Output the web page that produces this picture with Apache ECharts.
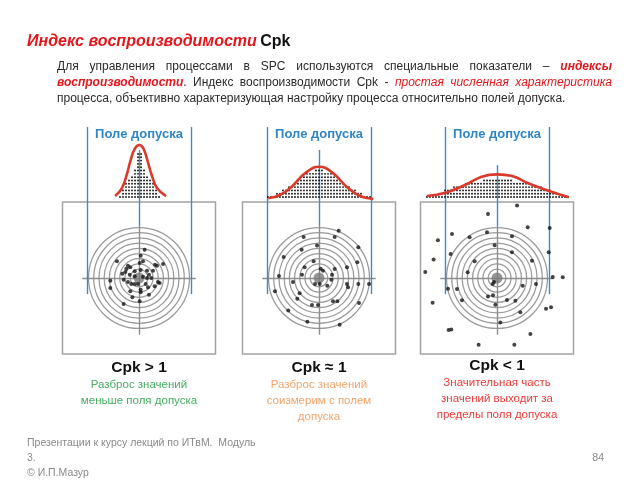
<!DOCTYPE html>
<html>
<head>
<meta charset="utf-8">
<script src="https://cdn.jsdelivr.net/npm/echarts@6/dist/echarts.min.js"></script>
<style>
  html, body { margin: 0; background: #fff; }
  #main { width: 640px; height: 480px; }
</style>
</head>
<body>
<div id="main"></div>
<script>
// all positions in tolerance units: LSL = -1, target = 0, USL = +1
var tolerance = [-1, 1];
var ringRadii = [0.17, 0.27, 0.37, 0.47, 0.57, 0.67, 0.77, 0.87, 0.97];

// shots on the target
var shots1 = [[0.109,0.545],[0.032,0.429],[-0.423,0.321],[-0.212,0.237],[-0.167,0.205],[-0.244,0.179],
  [0.013,0.288],[0.077,0.321],[0.308,0.256],[0.346,0.237],[0.462,0.269],[-0.321,0.083],[-0.263,0.115],
  [-0.179,0.064],[-0.083,0.128],[0.032,0.154],[0.154,0.141],[0.269,0.141],[0.192,0.064],[-0.551,-0.051],
  [-0.295,-0.032],[-0.212,-0.077],[-0.147,-0.115],[-0.083,-0.115],[-0.019,-0.115],[0.077,0.026],[0.154,0],
  [0.237,0],[0.365,-0.077],[0.397,-0.096],[-0.551,-0.192],[-0.167,-0.256],[0.032,-0.224],[0.032,-0.276],
  [0.128,-0.115],[0.173,-0.179],[0.192,-0.321],[-0.128,-0.372],[0.013,-0.449],[-0.295,-0.5],[0.301,-0.16],
  [-0.083,0.032]];
var shots2 = [[0.378,0.91],[-0.295,0.788],[0.301,0.788],[-0.038,0.622],[0.756,0.59],[-0.333,0.545],
  [-0.679,0.404],[0.737,0.301],[-0.103,0.321],[-0.276,0.205],[0.032,0.179],[0.077,0.141],[0.301,0.173],
  [0.538,0.205],[-0.327,0.064],[0.25,0.064],[-0.769,0.038],[-0.5,-0.077],[-0.077,-0.115],[0.013,-0.115],
  [0.16,-0.147],[0.237,-0.032],[0.538,-0.115],[0.558,-0.179],[0.756,-0.115],[0.962,-0.115],[-0.846,-0.256],
  [-0.372,-0.295],[-0.417,-0.397],[-0.135,-0.519],[-0.019,-0.519],[0.269,-0.449],[0.353,-0.449],
  [-0.59,-0.622],[0.769,-0.481],[-0.224,-0.84],[0.397,-0.897]];
var shots3 = [[0.385,1.391],[-0.173,1.231],[0.59,0.974],[1.013,0.962],[-0.865,0.846],[-0.526,0.782],
  [-0.192,0.878],[0.288,0.801],[-1.135,0.724],[-0.045,0.628],[0.994,0.494],[-0.891,0.462],[0.288,0.494],
  [-1.218,0.353],[-0.429,0.321],[0.673,0.333],[-0.564,0.109],[-1.378,0.115],[1.071,0.019],[1.263,0.013],
  [-0.058,-0.077],[-0.083,-0.115],[0.494,-0.147],[0.75,-0.115],[-0.942,-0.205],[-0.769,-0.212],
  [-0.673,-0.429],[-1.237,-0.474],[-0.173,-0.353],[-0.077,-0.333],[-0.032,-0.513],[0.192,-0.423],
  [0.353,-0.436],[0.942,-0.59],[1.038,-0.564],[0.449,-0.66],[0.064,-0.853],[-0.929,-1.0],[-0.878,-0.987],
  [0.641,-1.077],[-0.353,-1.282],[0.333,-1.282]];

// distribution curves (x, relative density)
var curve1 = [[-0.46,0.043],[-0.33,0.155],[-0.237,0.348],[-0.16,0.565],[-0.077,0.735],[0.005,0.783],
  [0.083,0.735],[0.16,0.565],[0.244,0.348],[0.35,0.155],[0.52,0.043]];
var curve2 = [[-0.975,0.01],[-0.75,0.058],[-0.525,0.178],[-0.27,0.372],[0.005,0.468],[0.275,0.372],
  [0.53,0.178],[0.79,0.043],[1.045,0.0]];
var curve3 = [[-1.35,0.043],[-0.99,0.091],[-0.615,0.203],[-0.295,0.323],[0,0.357],[0.29,0.333],
  [0.6,0.228],[0.99,0.12],[1.38,0.025]];

// dot histograms: dots per bin
var binWidth = 0.0577;
var histStart = [-0.365, -0.981, -1.346];
var hist1 = [1,3,5,6,7,9,14,14,9,7,6,5,3,1];
var hist2 = [1,1,1,2,2,3,3,4,4,5,6,7,7,8,8,8,9,9,9,8,8,8,7,7,6,5,4,4,3,3,2,2,1,1,1];
var hist3 = [1,1,1,1,2,2,3,3,3,4,4,4,4,5,5,5,5,5,5,6,6,6,6,6,
             6,6,6,6,6,5,5,5,5,5,5,4,4,4,4,3,3,3,2,2,1,1,1,1];

var cpkLabels = ['Cpk > 1', 'Cpk \u2248 1', 'Cpk < 1'];
var captions = [
  ['Разброс значений', 'меньше поля допуска'],
  ['Разброс значений', 'соизмерим с полем', 'допуска'],
  ['Значительная часть', 'значений выходит за', 'пределы поля допуска']
];
var captionColors = ['#46ad62', '#f2a46a', '#ee3b3b'];

var shots = [shots1, shots2, shots3];
var curves = [curve1, curve2, curve3];
var hists = [hist1, hist2, hist3];
var centerTop = [2.46, 2.46, 2.17];

var panelX = [139, 319, 497];
var blue = '#3b8dc6';
var FONT = '"Liberation Sans", Arial, sans-serif';

var chart = echarts.init(document.getElementById('main'));

var grids = [], xAxes = [], yAxes = [], series = [];
panelX.forEach(function (cx, i) {
  var t = i * 2, b = i * 2 + 1;
  grids.push({ left: cx - 76.5, top: 202, width: 153, height: 152, show: true,
    borderColor: '#a3a3a3', borderWidth: 1.5, backgroundColor: 'transparent' });
  grids.push({ left: cx - 76.5, top: 130, width: 153, height: 69 });
  xAxes.push({ type: 'value', gridIndex: t, min: -1.47, max: 1.47, show: false });
  xAxes.push({ type: 'value', gridIndex: b, min: -1.47, max: 1.47, show: false });
  yAxes.push({ type: 'value', gridIndex: t, min: -1.46, max: 1.46, show: false });
  yAxes.push({ type: 'value', gridIndex: b, min: 0, max: 1, show: false });

  // target rings
  series.push({
    type: 'custom', xAxisIndex: t, yAxisIndex: t, silent: true, z: 2,
    data: ringRadii.map(function (r) { return [0, 0, r]; }),
    renderItem: function (params, api) {
      var c = api.coord([api.value(0), api.value(1)]);
      var r = api.size([api.value(2), 0])[0];
      return { type: 'circle', shape: { cx: c[0], cy: c[1], r: r },
        style: { fill: 'none', stroke: '#9a9a9a', lineWidth: 1.25 } };
    }
  });
  // crosshair + tolerance lines
  series.push({
    type: 'lines', coordinateSystem: 'cartesian2d', xAxisIndex: t, yAxisIndex: t,
    silent: true, z: 3, clip: false,
    lineStyle: { width: 1.4, opacity: 1 },
    data: [
      { coords: [[-1.09, 0], [1.09, 0]], lineStyle: { color: '#8e8e8e' } },
      { coords: [[0, 1.0], [0, -1.09]], lineStyle: { color: '#8e8e8e' } },
      { coords: [[0, centerTop[i]], [0, 1.0]], lineStyle: { color: blue } },
      { coords: [[tolerance[0], 2.9], [tolerance[0], -0.31]], lineStyle: { color: blue } },
      { coords: [[tolerance[1], 2.9], [tolerance[1], -0.31]], lineStyle: { color: blue } }
    ]
  });
  // target center
  series.push({ type: 'scatter', xAxisIndex: t, yAxisIndex: t, silent: true, z: 4,
    symbolSize: 11, itemStyle: { color: '#7b7b7b' }, data: [[0, 0]] });
  // shots
  series.push({ type: 'scatter', xAxisIndex: t, yAxisIndex: t, silent: true, z: 5, clip: false,
    symbolSize: 4, itemStyle: { color: '#151515' }, data: shots[i] });
  // dot histogram
  series.push({
    type: 'custom', xAxisIndex: b, yAxisIndex: b, silent: true, z: 4, clip: false,
    data: hists[i].map(function (n, k) { return [histStart[i] + k * binWidth, n]; }),
    renderItem: function (params, api) {
      var x = api.value(0), n = api.value(1), kids = [];
      for (var k = 0; k < n; k++) {
        var p = api.coord([x, (k + 0.6) * 0.048]);
        kids.push({ type: 'circle', shape: { cx: p[0], cy: p[1], r: 0.95 }, style: { fill: '#151515' } });
      }
      return { type: 'group', children: kids };
    }
  });
  // distribution curve
  series.push({ type: 'line', xAxisIndex: b, yAxisIndex: b, silent: true, z: 6,
    smooth: 0.45, symbol: 'none', clip: false,
    lineStyle: { color: '#d93a2c', width: 2.6 }, data: curves[i] });
});

// ---- texts ----
var graphics = [];
function txt(x, y, text, o) {
  o = o || {};
  graphics.push({ type: 'text', silent: true, style: {
    x: x, y: y, text: text, fill: o.color || '#222',
    fontSize: o.size || 12, fontWeight: o.weight || 'normal', fontStyle: o.style || 'normal',
    fontFamily: FONT, textAlign: o.align || 'left', textVerticalAlign: 'middle' } });
}

graphics.push({ type: 'text', silent: true, style: {
  x: 27, y: 42, textVerticalAlign: 'middle',
  text: '{a|Индекс воспроизводимости} {b|Cpk}',
  rich: {
    a: { fill: '#e3161d', fontSize: 16, fontWeight: 'bold', fontStyle: 'italic', fontFamily: FONT },
    b: { fill: '#111', fontSize: 16, fontWeight: 'bold', fontFamily: FONT }
  } } });

// justified paragraph
var styles = {
  n:  { color: '#2a2a2a', weight: 'normal', style: 'normal' },
  em: { color: '#e3161d', weight: 'bold', style: 'italic' },
  it: { color: '#e3161d', weight: 'normal', style: 'italic' }
};
var paraLines = [
  [['n', 'Для управления процессами в SPC используются специальные показатели – '], ['em', 'индексы']],
  [['em', 'воспроизводимости'], ['n', '. Индекс воспроизводимости Cpk - '], ['it', 'простая численная характеристика']],
  [['n', 'процесса, объективно характеризующая настройку процесса относительно полей допуска.']]
];
var measure = document.createElement('canvas').getContext('2d');
function fontOf(s, size) { return s.style + ' ' + s.weight + ' ' + size + 'px ' + FONT; }
function layoutLine(line, x0, x1, y, justify, size) {
  var toks = [], pending = false;
  line.forEach(function (seg) {
    seg[1].split(' ').forEach(function (p) {
      if (p === '') { pending = true; return; }
      toks.push({ text: p, st: styles[seg[0]], gap: toks.length > 0 && pending });
      pending = true;
    });
    pending = seg[1].charAt(seg[1].length - 1) === ' ';
  });
  var total = 0, gaps = 0;
  toks.forEach(function (tk) {
    measure.font = fontOf(tk.st, size);
    tk.w = measure.measureText(tk.text).width;
    total += tk.w;
    if (tk.gap) gaps++;
  });
  measure.font = fontOf(styles.n, size);
  var sp = justify ? (x1 - x0 - total) / gaps : measure.measureText(' ').width;
  var x = x0;
  toks.forEach(function (tk) {
    if (tk.gap) x += sp;
    txt(x, y, tk.text, { color: tk.st.color, weight: tk.st.weight, style: tk.st.style, size: size });
    x += tk.w;
  });
}
layoutLine(paraLines[0], 57, 612, 67, true, 12);
layoutLine(paraLines[1], 57, 612, 83, true, 12);
layoutLine(paraLines[2], 57, 612, 99, false, 12);

panelX.forEach(function (cx, i) {
  txt(cx, 134, 'Поле допуска', { color: '#2f86c6', weight: 'bold', size: 13, align: 'center' });
  txt(cx, i === 2 ? 366 : 368, cpkLabels[i], { color: '#111', weight: 'bold', size: 15.5, align: 'center' });
  captions[i].forEach(function (s, k) {
    txt(cx, (i === 2 ? 383 : 385) + k * 16, s, { color: captionColors[i], size: 11.5, align: 'center' });
  });
});

txt(27, 443, 'Презентации к курсу лекций по ИТвМ.  Модуль', { color: '#8a8a8a', size: 10.5 });
txt(27, 458, '3.', { color: '#8a8a8a', size: 10.5 });
txt(27, 473, '© И.П.Мазур', { color: '#8a8a8a', size: 10.5 });
txt(604, 458, '84', { color: '#8a8a8a', size: 10.5, align: 'right' });

chart.setOption({
  animation: false,
  backgroundColor: '#fff',
  grid: grids,
  xAxis: xAxes,
  yAxis: yAxes,
  series: series,
  graphic: graphics
});
</script>
</body>
</html>
